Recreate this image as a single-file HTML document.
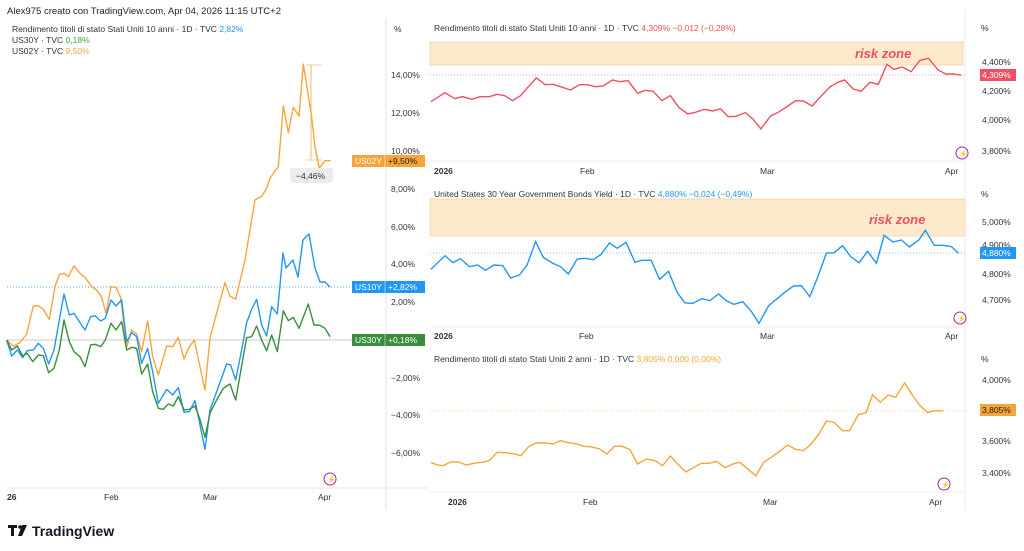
<!DOCTYPE html>
<html><head><meta charset="utf-8"><style>
body{margin:0;width:1024px;height:551px;background:#fff;overflow:hidden;font-family:"Liberation Sans",sans-serif;}
svg{position:absolute;left:0;top:0}
text{font-family:"Liberation Sans",sans-serif}
</style></head><body>
<svg width="1024" height="551" viewBox="0 0 1024 551">
<text x="7" y="14" font-size="9.5" fill="#222">Alex975 creato con TradingView.com, Apr 04, 2026 11:15 UTC+2</text>
<line x1="386" y1="18" x2="386" y2="510" stroke="#e6e6e6"/>
<line x1="7" y1="488" x2="428" y2="488" stroke="#e6e6e6"/>
<text x="12" y="32" font-size="8.5" fill="#333">Rendimento titoli di stato Stati Uniti 10 anni · 1D · TVC <tspan fill="#2196f3">2,82%</tspan></text>
<text x="12" y="43" font-size="8.5" fill="#333">US30Y · TVC <tspan fill="#43a047">0,18%</tspan></text>
<text x="12" y="54" font-size="8.5" fill="#333">US02Y · TVC <tspan fill="#f7a53a">9,50%</tspan></text>
<text x="394" y="32" font-size="8.5" fill="#333">%</text>
<g font-size="8.5" fill="#333">
<text x="391" y="78">14,00%</text><text x="391" y="116">12,00%</text><text x="391" y="154">10,00%</text>
<text x="391" y="192">8,00%</text><text x="391" y="230">6,00%</text><text x="391" y="267">4,00%</text>
<text x="391" y="305">2,00%</text><text x="391" y="381">−2,00%</text><text x="391" y="418">−4,00%</text><text x="391" y="456">−6,00%</text>
</g>
<g font-size="8.5" fill="#333"><text x="7" y="500" font-weight="bold">26</text><text x="104" y="500">Feb</text><text x="203" y="500">Mar</text><text x="318" y="500">Apr</text></g>
<line x1="7" y1="340" x2="386" y2="340" stroke="#c8c8c8"/>
<line x1="7" y1="287" x2="386" y2="287" stroke="#2196f3" stroke-dasharray="1,2" stroke-width="0.8"/>
<g transform="translate(0,260) scale(0.3333)" fill="none" stroke-linejoin="round">
<polyline vector-effect="non-scaling-stroke" stroke="#f7a53a" stroke-width="1.4" points="20,240 40,258 60,248 80,222 100,138 115,137 130,148 148,178 165,80 178,44 192,40 205,50 222,18 240,40 255,52 275,80 290,90 305,112 318,160 333,80 348,82 362,112 380,262 395,210 410,222 425,275 443,183 458,290 475,345 500,258 518,260 535,232 552,297 568,260 583,240 600,320 615,390 630,235 650,160 675,68 690,108 707,118 722,55 735,0 750,-90 765,-180 786,-192 800,-215 810,-245 820,-260 835,-280 850,-462 865,-382 880,-458 897,-432 910,-588 935,-430 945,-340 958,-275 975,-298 992,-298"/>
<polyline vector-effect="non-scaling-stroke" stroke="#2196f3" stroke-width="1.4" points="20,240 35,288 52,270 68,293 82,272 100,270 115,250 130,265 146,312 162,270 178,180 192,102 208,165 222,160 238,185 255,210 272,170 285,167 302,183 316,175 333,120 348,138 365,120 380,245 395,218 410,230 425,310 443,265 458,335 475,430 500,388 518,405 535,383 552,457 568,455 585,422 600,495 615,568 630,450 650,395 680,312 692,315 707,360 725,270 740,188 755,148 770,118 785,195 800,228 815,140 832,162 849,-21 858,24 879,0 894,51 909,-60 927,-78 945,24 960,66 975,66 990,81"/>
<polyline vector-effect="non-scaling-stroke" stroke="#388e3c" stroke-width="1.4" points="20,240 35,270 52,258 68,288 82,280 98,305 115,285 130,287 146,338 162,325 178,270 192,180 208,245 222,275 240,290 255,320 272,255 285,253 302,260 316,240 333,190 348,210 365,185 380,270 395,262 410,265 425,342 443,312 458,395 475,445 490,448 505,432 520,438 535,410 552,450 568,448 585,438 600,478 615,532 630,460 650,420 670,385 690,372 707,420 740,233 755,230 770,198 785,240 800,272 815,225 832,275 850,152 865,182 880,172 897,205 925,132 942,195 960,196 975,205 990,230"/>
</g>
<line x1="311" y1="65" x2="311" y2="160" stroke="#f7a53a" stroke-width="0.8"/>
<line x1="306" y1="65" x2="322" y2="65" stroke="#f7a53a" stroke-width="0.6"/>
<line x1="306" y1="160" x2="322" y2="160" stroke="#f7a53a" stroke-width="0.6"/>
<rect x="290" y="168" width="43" height="15" rx="3" fill="#ececec"/>
<text x="296" y="179" font-size="8.5" fill="#333">−4,46%</text>
<g font-size="8.5" fill="#fff">
<rect x="352" y="155" width="73" height="12" fill="#f7a53a"/><line x1="385" y1="155" x2="385" y2="167" stroke="#fff" stroke-width="0.5"/><text x="355" y="164">US02Y</text><text x="388" y="164" fill="#222">+9,50%</text>
<rect x="352" y="281" width="73" height="12" fill="#2196f3"/><line x1="385" y1="281" x2="385" y2="293" stroke="#fff" stroke-width="0.5"/><text x="355" y="290">US10Y</text><text x="388" y="290">+2,82%</text>
<rect x="352" y="334" width="73" height="12" fill="#388e3c"/><line x1="385" y1="334" x2="385" y2="346" stroke="#fff" stroke-width="0.5"/><text x="355" y="343">US30Y</text><text x="388" y="343">+0,18%</text>
</g>
<circle cx="330" cy="479" r="6" fill="none" stroke="#9c27b0" stroke-width="1"/><text x="327" y="482" font-size="7" fill="#9c27b0">⚡</text>
<rect x="8" y="525" width="9" height="3" fill="#131722"/><rect x="11" y="525" width="3" height="11" fill="#131722"/><circle cx="20" cy="527" r="1.8" fill="#131722"/><polygon points="22,525 27,525 22,536 18,536" fill="#131722"/>
<text x="32" y="536" font-size="14" font-weight="bold" fill="#131722">TradingView</text>

<line x1="965" y1="10" x2="965" y2="510" stroke="#eee"/>
<text x="434" y="31" font-size="8.5" fill="#333">Rendimento titoli di stato Stati Uniti 10 anni · 1D · TVC <tspan fill="#ef5061">4,309%  −0,012 (−0,28%)</tspan></text>
<text x="981" y="31" font-size="8.5" fill="#333">%</text>
<rect x="430" y="42" width="533" height="23" fill="#fde9cc" stroke="#f6c98a" stroke-width="0.6"/>
<text x="855" y="58" font-size="13" font-style="italic" font-weight="bold" fill="#ef5061">risk zone</text>
<line x1="430" y1="75" x2="965" y2="75" stroke="#ef5061" stroke-dasharray="1,2" stroke-width="0.6"/>
<g transform="translate(420,0) scale(0.3852,0.3333)" fill="none"><polyline vector-effect="non-scaling-stroke" stroke="#ef5061" stroke-width="1.4" points="28,305 65,278 90,296 110,290 135,298 155,290 180,290 200,283 220,287 240,302 260,288 280,262 302,234 325,254 345,253 370,262 390,270 415,254 435,254 455,260 475,258 500,240 518,245 540,242 565,280 585,271 605,274 628,302 650,287 672,322 695,342 715,337 738,328 760,333 780,326 800,350 820,349 845,338 865,358 885,387 910,348 930,337 955,318 975,302 995,303 1018,318 1040,290 1065,260 1085,247 1102,240 1125,267 1145,274 1168,247 1190,253 1212,193 1230,208 1252,201 1275,215 1298,181 1320,175 1345,210 1365,222 1385,222 1405,226"/></g>
<g font-size="8.5" fill="#333"><text x="982" y="65">4,400%</text><text x="982" y="94">4,200%</text><text x="982" y="123">4,000%</text><text x="982" y="154">3,800%</text></g>
<rect x="980" y="69" width="36" height="12" fill="#ef5061"/><text x="982" y="78" font-size="8.5" fill="#fff">4,309%</text>
<line x1="430" y1="161" x2="965" y2="161" stroke="#eee"/>
<g font-size="8.5" fill="#333"><text x="434" y="174" font-weight="bold">2026</text><text x="580" y="174">Feb</text><text x="760" y="174">Mar</text><text x="945" y="174">Apr</text></g>
<circle cx="962" cy="153" r="6" fill="none" stroke="#9c27b0"/><text x="959" y="156" font-size="7" fill="#9c27b0">⚡</text>

<text x="434" y="197" font-size="8.5" fill="#333">United States 30 Year Government Bonds Yield · 1D · TVC <tspan fill="#2196f3">4,880%  −0,024 (−0,49%)</tspan></text>
<text x="981" y="197" font-size="8.5" fill="#333">%</text>
<rect x="430" y="199" width="535" height="37" fill="#fde9cc" stroke="#f6c98a" stroke-width="0.6"/>
<text x="869" y="224" font-size="13" font-style="italic" font-weight="bold" fill="#ef5061">risk zone</text>
<line x1="430" y1="253" x2="965" y2="253" stroke="#2196f3" stroke-dasharray="1,2" stroke-width="0.6"/>
<g transform="translate(420,180) scale(0.3852,0.3333)" fill="none"><polyline vector-effect="non-scaling-stroke" stroke="#2196f3" stroke-width="1.4" points="28,268 65,227 85,248 105,236 128,260 150,255 170,271 192,255 215,257 235,294 258,285 278,255 300,185 320,232 345,250 365,260 385,282 408,237 428,235 450,239 470,223 492,189 512,205 535,187 558,247 575,241 600,241 622,298 645,274 668,338 688,369 708,370 732,356 752,362 775,342 795,362 815,373 838,365 860,394 880,430 905,377 925,358 950,334 970,318 990,317 1012,350 1032,293 1055,219 1075,218 1097,197 1118,230 1140,248 1162,214 1185,250 1205,166 1228,186 1250,180 1270,201 1295,180 1312,151 1335,196 1358,196 1380,200 1398,220"/></g>
<g font-size="8.5" fill="#333"><text x="982" y="225">5,000%</text><text x="982" y="248">4,900%</text><text x="982" y="277">4,800%</text><text x="982" y="303">4,700%</text></g>
<rect x="980" y="247" width="36" height="12" fill="#2196f3"/><text x="982" y="256" font-size="8.5" fill="#fff">4,880%</text>
<line x1="430" y1="327" x2="965" y2="327" stroke="#eee"/>
<g font-size="8.5" fill="#333"><text x="434" y="339" font-weight="bold">2026</text><text x="579" y="339">Feb</text><text x="760" y="339">Mar</text><text x="945" y="339">Apr</text></g>
<circle cx="960" cy="318" r="6" fill="none" stroke="#9c27b0"/><text x="957" y="321" font-size="7" fill="#9c27b0">⚡</text>

<text x="434" y="362" font-size="8.5" fill="#333">Rendimento titoli di stato Stati Uniti 2 anni · 1D · TVC <tspan fill="#f7a53a">3,805%  0,000 (0,00%)</tspan></text>
<text x="981" y="362" font-size="8.5" fill="#333">%</text>
<line x1="430" y1="411" x2="965" y2="411" stroke="#f7a53a" stroke-dasharray="1,2" stroke-width="0.6"/>
<g transform="translate(420,345) scale(0.3852,0.3333)" fill="none"><polyline vector-effect="non-scaling-stroke" stroke="#f7a53a" stroke-width="1.4" points="28,352 45,360 60,362 80,351 100,351 120,360 140,355 160,352 180,347 200,322 222,323 242,326 262,332 282,305 302,294 325,294 345,297 365,287 385,293 405,296 425,304 445,306 465,311 485,327 505,304 525,304 545,314 565,357 588,342 610,347 630,362 650,333 668,356 690,381 710,368 730,355 750,355 770,349 792,368 812,357 830,352 852,373 872,393 892,352 912,337 932,320 955,300 975,313 995,317 1015,298 1035,268 1055,228 1075,232 1097,257 1115,257 1138,209 1158,203 1175,149 1195,172 1215,150 1235,157 1258,114 1278,150 1298,182 1318,203 1335,197 1358,197"/></g>
<g font-size="8.5" fill="#333"><text x="982" y="383">4,000%</text><text x="982" y="444">3,600%</text><text x="982" y="476">3,400%</text></g>
<rect x="980" y="404" width="36" height="12" fill="#f7a53a"/><text x="982" y="413" font-size="8.5" fill="#222">3,805%</text>
<line x1="430" y1="492" x2="965" y2="492" stroke="#eee"/>
<g font-size="8.5" fill="#333"><text x="448" y="505" font-weight="bold">2026</text><text x="583" y="505">Feb</text><text x="763" y="505">Mar</text><text x="929" y="505">Apr</text></g>
<circle cx="944" cy="484" r="6" fill="none" stroke="#9c27b0"/><text x="941" y="487" font-size="7" fill="#9c27b0">⚡</text>
</svg>
</body></html>
